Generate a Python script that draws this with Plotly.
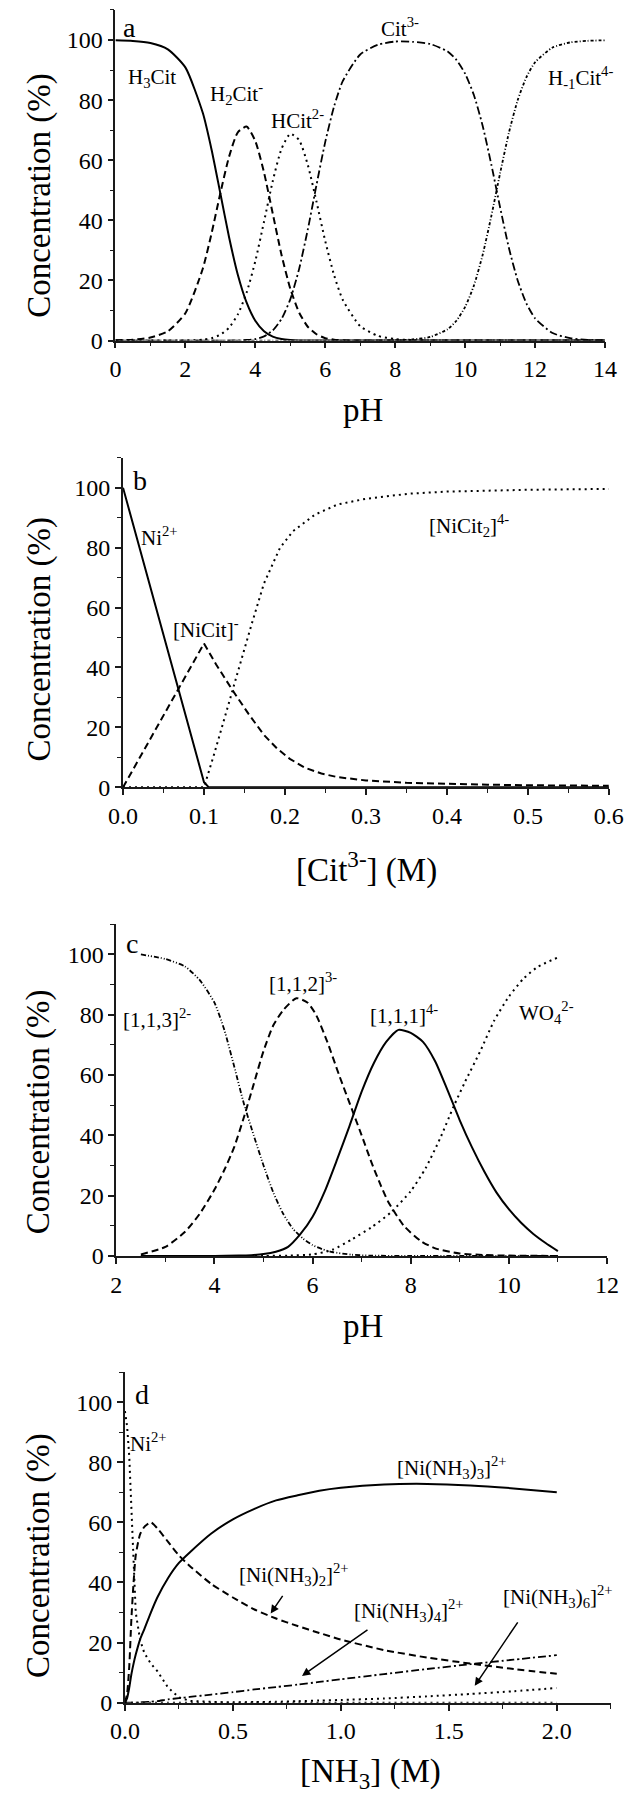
import plotly.graph_objects as go

# ---------------- DATA ----------------
# Panel a: citrate speciation vs pH
ph_a = [0, 0.5, 1, 1.5, 2, 2.5, 2.75, 3, 3.25, 3.5, 3.75, 4, 4.25, 4.5, 4.75, 5, 5.25, 5.5,
        5.75, 6, 6.25, 6.5, 7, 7.5, 8, 8.5, 9, 9.5, 9.75, 10, 10.25, 10.5, 10.75, 11, 11.25,
        11.5, 11.75, 12, 12.5, 13, 13.5, 14]
h3cit = [99.9, 99.7, 99.0, 96.9, 90.9, 75.7, 63.5, 49.0, 34.4, 21.9, 12.7, 6.6, 3.1, 1.3, 0.5,
         0.17, 0.05, 0.01, 0, 0, 0, 0, 0, 0, 0, 0, 0, 0, 0, 0, 0, 0, 0, 0, 0, 0, 0, 0, 0, 0, 0, 0]
h2cit = [0.1, 0.3, 1.0, 3.1, 9.1, 24.0, 35.7, 49.0, 61.2, 69.3, 71.2, 66.4, 55.9, 42.2, 28.5,
         17.3, 9.4, 4.6, 2.1, 0.8, 0.3, 0.1, 0, 0, 0, 0, 0, 0, 0, 0, 0, 0, 0, 0, 0, 0, 0, 0, 0, 0, 0, 0]
hcit = [0, 0, 0, 0, 0.04, 0.3, 0.8, 1.95, 4.3, 8.7, 15.9, 26.4, 39.6, 53.1, 63.8, 68.8, 66.8,
        58.5, 46.2, 33.1, 21.9, 13.6, 4.8, 1.6, 0.5, 0.16, 0.05, 0, 0, 0, 0, 0, 0, 0, 0, 0, 0, 0, 0, 0, 0, 0]
cit = [0, 0, 0, 0, 0, 0, 0, 0, 0, 0.05, 0.2, 0.5, 1.4, 3.4, 7.2, 13.7, 23.7, 36.9, 51.8, 66.1,
       77.8, 86.3, 95.2, 98.4, 99.5, 99.4, 98.7, 96.2, 93.4, 88.8, 81.7, 71.5, 58.5, 44.3, 30.9,
       20.1, 12.4, 7.4, 2.5, 0.8, 0.25, 0.08]
hm1cit = [0, 0, 0, 0, 0, 0, 0, 0, 0, 0, 0, 0, 0, 0, 0, 0, 0, 0, 0, 0, 0, 0, 0, 0, 0.1, 0.4,
          1.2, 3.8, 6.6, 11.2, 18.3, 28.5, 41.5, 55.7, 69.1, 79.9, 87.6, 92.6, 97.5, 99.2, 99.75, 99.9]

# Panel b: Ni-citrate vs [Cit3-]
cb_ni = [0, 0.1, 0.106, 0.2, 0.4, 0.6]
ni_b = [100, 1.7, 0, 0, 0, 0]
cb_nicit = [0, 0.1, 0.115, 0.135, 0.155, 0.174, 0.19, 0.206, 0.225, 0.245, 0.265, 0.3, 0.35,
            0.4, 0.45, 0.5, 0.6]
nicit = [0, 48, 41, 32.5, 24.5, 17.5, 13, 9.5, 6.5, 4.6, 3.4, 2.3, 1.5, 1.1, 0.9, 0.7, 0.5]
cb_nicit2 = [0, 0.1, 0.112, 0.124, 0.135, 0.147, 0.159, 0.174, 0.194, 0.21, 0.237, 0.265, 0.3,
             0.353, 0.4, 0.5, 0.6]
nicit2 = [0, 0, 10.6, 22, 32.5, 44, 54.6, 68, 80, 85.5, 91, 94.4, 96.3, 98, 98.7, 99.3, 99.6]

# Panel c: Ni-W-citrate species vs pH
ph_c113 = [2.5, 3.0, 3.4, 3.7, 4.0, 4.2, 4.4, 4.6, 4.8, 5.0, 5.2, 5.4, 5.6, 5.8, 6.0, 6.2, 6.4,
           6.8, 7.2, 8.0, 9.0, 10.0, 11.0]
c113 = [100, 98.5, 96, 91.5, 84, 75, 63, 50.5, 40, 30, 21, 14, 9, 5.8, 3.6, 2.2, 1.3, 0.4, 0.1,
        0, 0, 0, 0]
ph_c112 = [2.5, 3.0, 3.4, 3.7, 4.0, 4.2, 4.4, 4.6, 4.8, 5.0, 5.2, 5.4, 5.67, 5.9, 6.07, 6.3,
           6.54, 6.83, 7.0, 7.2, 7.4, 7.54, 7.86, 8.2, 8.5, 9.0, 9.5, 10.0, 11.0]
c112 = [0.5, 3, 8, 14, 22, 28.5, 36, 46, 57, 68, 76.5, 81.5, 85.5, 84, 80, 71, 60, 47.4, 40, 31,
        23, 18, 10, 5, 2.5, 0.8, 0.3, 0.1, 0]
ph_c111 = [2.5, 4.0, 4.5, 4.75, 5.0, 5.25, 5.5, 5.75, 6.0, 6.25, 6.5, 6.75, 7.0, 7.25, 7.5,
           7.75, 8.0, 8.25, 8.5, 8.75, 9.0, 9.25, 9.5, 9.75, 10.0, 10.25, 10.5, 10.75, 11.0]
c111 = [0, 0, 0.1, 0.25, 0.6, 1.4, 3.0, 7.2, 13, 21.5, 32, 43, 54.5, 64, 71, 75, 74, 71, 64.5,
        55, 45, 36, 28, 21, 15.5, 11, 7.3, 4.3, 1.6]
ph_cwo4 = [2.5, 4.0, 5.0, 5.5, 6.0, 6.4, 6.8, 7.2, 7.6, 8.0, 8.3, 8.6, 8.87, 9.1, 9.42, 9.7,
           10.0, 10.3, 10.6, 11.0]
cwo4 = [0, 0, 0, 0.1, 0.5, 2, 5.5, 9.5, 14.5, 21.5, 29, 39, 49.4, 57.5, 68, 78, 86, 92, 96, 99]

# Panel d: Ni-ammonia species vs [NH3]
nh3 = [0, 0.01, 0.02, 0.03, 0.04, 0.05, 0.07, 0.09, 0.12, 0.15, 0.2, 0.25, 0.3, 0.4, 0.5, 0.6,
       0.7, 0.8, 0.9, 1.0, 1.2, 1.4, 1.6, 1.8, 2.0]
ni_d = [97, 92, 82, 64, 45, 30, 21, 16.5, 13, 10.5, 5, 1.8, 0.6, 0.2, 0, 0, 0, 0, 0, 0, 0, 0,
        0, 0, 0]
ni_nh3_2 = [0, 3, 12, 28, 40, 49, 56, 58.5, 60, 58, 53.5, 49, 45.5, 39.5, 35, 31, 28, 25.5,
            23.2, 21, 17.5, 15, 13, 11.2, 9.6]
ni_nh3_3 = [0, 1.5, 5, 9.5, 13, 16, 21, 24.5, 30, 35, 41.5, 46.5, 50, 56.3, 61, 64.5, 67.3, 69,
            70.5, 71.5, 72.6, 72.8, 72.3, 71.3, 70]
ni_nh3_4 = [0, 0, 0, 0, 0, 0, 0.1, 0.2, 0.3, 0.5, 1.1, 1.5, 1.9, 2.7, 3.5, 4.4, 5.2, 6.0, 6.9,
            7.8, 9.5, 11.2, 12.8, 14.3, 15.8]
ni_nh3_6 = [0, 0, 0, 0, 0, 0, 0, 0, 0, 0, 0, 0, 0, 0, 0.1, 0.2, 0.3, 0.5, 0.7, 0.9, 1.4, 2.1,
            2.9, 3.8, 4.9]

# ---------------- STYLE ----------------
W, H = 633, 1800
FONT = "Liberation Serif"
K = "black"

SOLID = dict(color=K, width=2)
DASH = dict(color=K, width=2, dash="7px,4px")
DOT = dict(color=K, width=2, dash="2px,4px")
DASHDOT = dict(color=K, width=1.8, dash="8px,3px,2px,3px")
SHORTDD = dict(color=K, width=1.8, dash="3px,2px,1px,2px")
DDOT = dict(color=K, width=1.8, dash="5px,2px,1px,2px,1px,2px")


def px(x, y):
    return x / W, 1 - y / H


fig = go.Figure()


def add(x, y, line, ax, shape="spline"):
    fig.add_trace(go.Scatter(x=x, y=y, mode="lines", line=dict(shape=shape, smoothing=0.6, **line),
                             xaxis="x" + ax, yaxis="y" + ax, showlegend=False, hoverinfo="skip"))


# panel a
add(ph_a, h3cit, SOLID, "")
add(ph_a, h2cit, DASH, "")
add(ph_a, hcit, DOT, "")
add(ph_a, cit, DASHDOT, "")
add(ph_a, hm1cit, SHORTDD, "")
# panel b
add(cb_ni, ni_b, SOLID, "2", "linear")
add(cb_nicit, nicit, DASH, "2", "linear")
add(cb_nicit2, nicit2, DOT, "2", "linear")
# panel c
add(ph_c113, c113, DDOT, "3")
add(ph_c112, c112, DASH, "3")
add(ph_c111, c111, SOLID, "3")
add(ph_cwo4, cwo4, DOT, "3")
# panel d
add(nh3, ni_d, DOT, "4", "linear")
add(nh3, ni_nh3_2, DASH, "4")
add(nh3, ni_nh3_3, SOLID, "4")
add(nh3, ni_nh3_4, DASHDOT, "4")
add(nh3, ni_nh3_6, DOT, "4")


def axis(rng, dtick, mdtick, dom, anchor, fmt=None, tick0=0):
    d = dict(range=rng, domain=dom, anchor=anchor, showline=True, linecolor="#1a1a1a", linewidth=1.8,
             ticks="outside", ticklen=6, tickwidth=1.6, tickcolor="#1a1a1a", dtick=dtick, tick0=tick0,
             minor=dict(ticks="outside", ticklen=4, tickwidth=1.3, dtick=mdtick, tick0=tick0, tickcolor="#1a1a1a"),
             showgrid=False, zeroline=False,
             tickfont=dict(family=FONT, size=24, color=K))
    if fmt:
        d["tickformat"] = fmt
    return d


def xd(x0, x1):
    return [x0 / W, x1 / W]


def yd(top, bottom):
    return [1 - bottom / H, 1 - top / H]


fig.update_layout(
    width=W, height=H, margin=dict(l=0, r=0, t=0, b=0),
    paper_bgcolor="white", plot_bgcolor="white",
    xaxis=axis([0, 14], 2, 1, xd(97, 611), "y"),
    yaxis=axis([0, 110], 20, 10, yd(2, 335), "x"),
    xaxis2=axis([0, 0.6], 0.1, 0.05, xd(105, 615), "y2", ".1f"),
    yaxis2=axis([0, 110], 20, 10, yd(453, 785), "x2"),
    xaxis3=axis([2, 12], 2, 1, xd(98, 613), "y3", tick0=2),
    yaxis3=axis([0, 110], 20, 10, yd(923, 1257), "x3"),
    xaxis4=axis([0, 2.25], 0.5, 0.25, xd(107, 617), "y4", ".1f"),
    yaxis4=axis([0, 110], 20, 10, yd(1374, 1707), "x4"),
)

ann = []


def label(text, x, y, size=21, angle=0):
    X, Y = px(x, y)
    ann.append(dict(text=text, x=X, y=Y, xref="paper", yref="paper", showarrow=False,
                    xanchor="center", yanchor="middle", textangle=angle,
                    font=dict(family=FONT, size=size, color=K)))


# axis titles
for yc in (189, 636, 1112, 1559):
    label("Concentration (%)", 17, yc, 33, -90)
label("pH", 357, 405, 33)
label("[Cit<sup>3-</sup>] (M)", 361, 866, 33)
label("pH", 357, 1328, 33)
label("[NH<sub>3</sub>] (M)", 365, 1778, 33)

# panel letters
label("a", 112, 20, 28)
label("b", 123, 476, 28)
label("c", 114, 942, 28)
label("d", 125, 1397, 28)

# panel a labels
label("H<sub>3</sub>Cit", 135, 71)
label("H<sub>2</sub>Cit<sup>-</sup>", 224, 86)
label("HCit<sup>2-</sup>", 288, 112)
label("Cit<sup>3-</sup>", 396, 20)
label("H<sub>-1</sub>Cit<sup>4-</sup>", 585, 70)
# panel b labels
label("Ni<sup>2+</sup>", 143, 532)
label("[NiCit]<sup>-</sup>", 192, 625)
label("[NiCit<sub>2</sub>]<sup>4-</sup>", 468, 521)
# panel c labels
label("[1,1,3]<sup>2-</sup>", 141, 1018)
label("[1,1,2]<sup>3-</sup>", 294, 982)
label("[1,1,1]<sup>4-</sup>", 400, 1014)
label("WO<sub>4</sub><sup>2-</sup>", 550, 1012)
# panel d labels
label("Ni<sup>2+</sup>", 132, 1445)
label("[Ni(NH<sub>3</sub>)<sub>3</sub>]<sup>2+</sup>", 450, 1470)
label("[Ni(NH<sub>3</sub>)<sub>2</sub>]<sup>2+</sup>", 285, 1578)
label("[Ni(NH<sub>3</sub>)<sub>4</sub>]<sup>2+</sup>", 405, 1614)
label("[Ni(NH<sub>3</sub>)<sub>6</sub>]<sup>2+</sup>", 562, 1600)

# arrows in panel d
for hx, hy, dx, dy in ((0.675, 29.7, 13, -19), (0.82, 8.9, 67, -47), (1.62, 5.6, 44, -65)):
    ann.append(dict(text="", x=hx, y=hy, xref="x4", yref="y4", ax=dx, ay=dy, showarrow=True,
                    arrowhead=2, arrowsize=1.1, arrowwidth=1.5, arrowcolor=K))

fig.update_layout(annotations=ann)
fig.write_html("out.html")
